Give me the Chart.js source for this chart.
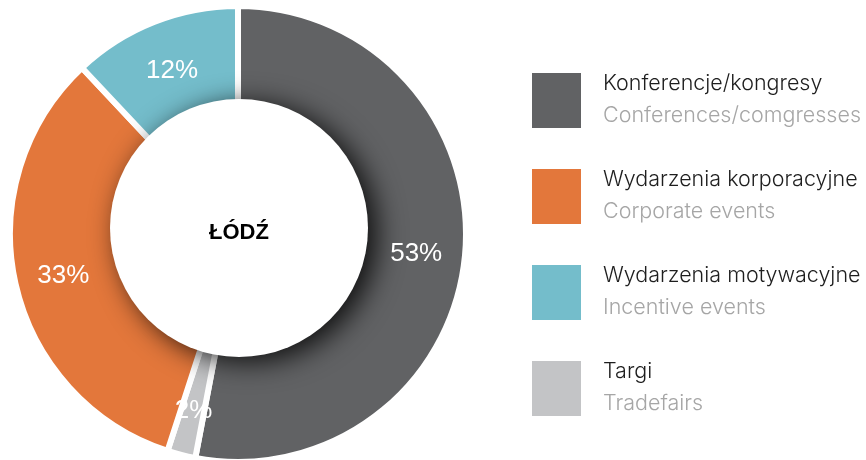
<!DOCTYPE html>
<html>
<head>
<meta charset="utf-8">
<script src="https://cdn.jsdelivr.net/npm/chart.js@4/dist/chart.umd.min.js"></script>
<style>
  html, body { margin: 0; padding: 0; background: #ffffff; overflow: hidden; }
  #wrap { position: relative; width: 866px; height: 470px; }
</style>
</head>
<body>
<div id="wrap"><canvas id="c"></canvas></div>
<script>
// Ring order, clockwise from 12 o'clock
const categories   = ['Konferencje/kongresy', 'Targi', 'Wydarzenia korporacyjne', 'Wydarzenia motywacyjne'];
const categoriesEn = ['Conferences/comgresses', 'Tradefairs', 'Corporate events', 'Incentive events'];
const values       = [53, 2, 33, 12];
const colors       = ['#616264', '#C3C4C6', '#E3773B', '#74BDCB'];
const legendOrder  = [0, 2, 3, 1];
const centerTitle  = 'ŁÓDŹ';

const overlayPlugin = {
  id: 'overlay',
  afterDatasetsDraw(chart) {
    const ctx = chart.ctx;
    const meta = chart.getDatasetMeta(0);
    const arc0 = meta.data[0];
    const cx = arc0.x, cy = arc0.y;
    const outerR = arc0.outerRadius - 3;

    // white inner disc with drop shadow
    const discX = cx + 1, discY = cy - 6, discR = 129;
    ctx.save();
    ctx.beginPath();
    ctx.arc(cx, cy, outerR + 3, 0, Math.PI * 2);
    ctx.clip();
    ctx.shadowColor = 'rgba(0,0,0,0.85)';
    ctx.shadowBlur = 28;
    ctx.shadowOffsetX = 9;
    ctx.shadowOffsetY = 5;
    ctx.fillStyle = '#ffffff';
    ctx.beginPath();
    ctx.arc(discX, discY, discR, 0, Math.PI * 2);
    ctx.fill();
    ctx.restore();

    // percentage labels
    const labelR = (discR + outerR) / 2 + 2;
    const total = values.reduce((a, b) => a + b, 0);
    ctx.save();
    ctx.fillStyle = '#ffffff';
    ctx.font = '26px "Liberation Sans", Arial, sans-serif';
    ctx.textAlign = 'center';
    ctx.textBaseline = 'middle';
    meta.data.forEach((arc, i) => {
      const mid = (arc.startAngle + arc.endAngle) / 2;
      const x = cx + Math.cos(mid) * labelR;
      const y = cy + Math.sin(mid) * labelR;
      ctx.fillText(Math.round(values[i] / total * 100) + '%', x, y + 3);
    });
    ctx.restore();

    // center title
    ctx.save();
    ctx.fillStyle = '#000000';
    ctx.font = 'bold 22px "Liberation Sans", Arial, sans-serif';
    ctx.textAlign = 'center';
    ctx.textBaseline = 'middle';
    ctx.fillText(centerTitle, discX, discY + 5);
    ctx.restore();

    // legend
    ctx.save();
    const lx = 532, ly0 = 73, step = 96, sw = 49, sh = 55, tx = 603;
    legendOrder.forEach((idx, k) => {
      const y = ly0 + k * step;
      ctx.fillStyle = colors[idx];
      ctx.fillRect(lx, y, sw, sh);
      ctx.textAlign = 'left';
      ctx.textBaseline = 'alphabetic';
      ctx.font = '300 21.5px Inter, Roboto, sans-serif';
      ctx.fillStyle = '#1e1e1e';
      ctx.fillText(categories[idx], tx, y + 17);
      ctx.fillStyle = '#a6a6a6';
      ctx.fillText(categoriesEn[idx], tx, y + 49);
    });
    ctx.restore();
  }
};

new Chart(document.getElementById('c'), {
  type: 'doughnut',
  data: {
    labels: categories,
    datasets: [{
      data: values,
      backgroundColor: colors,
      borderColor: '#ffffff',
      borderWidth: 6,
      hoverBorderWidth: 6,
      hoverOffset: 0,
      offset: 0
    }]
  },
  options: {
    responsive: true,
    maintainAspectRatio: false,
    animation: false,
    events: [],
    cutout: '50%',
    layout: { padding: { left: 7, top: 3, right: 397, bottom: 5 } },
    plugins: { legend: { display: false }, tooltip: { enabled: false } }
  },
  plugins: [overlayPlugin]
});
</script>
</body>
</html>
